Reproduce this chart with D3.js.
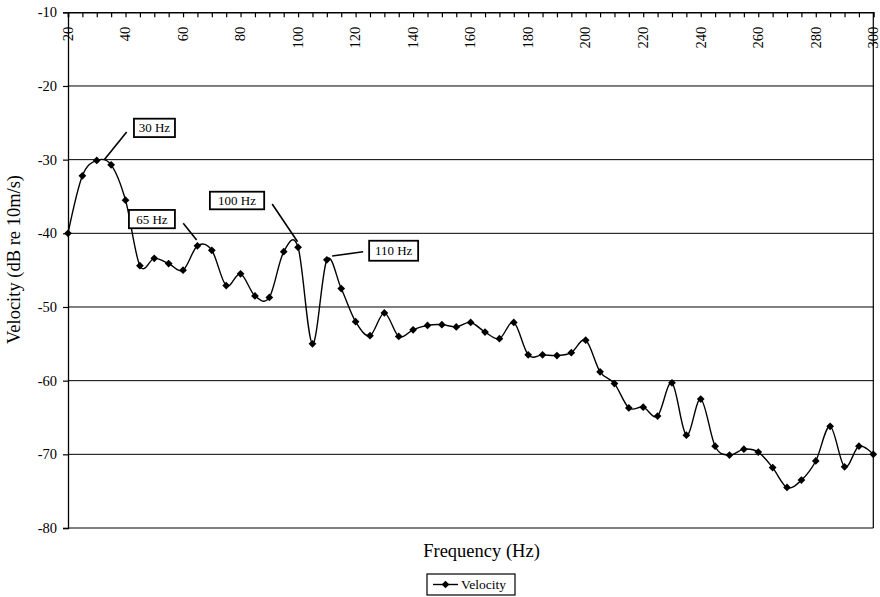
<!DOCTYPE html>
<html>
<head>
<meta charset="utf-8">
<script src="https://cdn.jsdelivr.net/npm/d3@7"></script>
<style>
  html, body { margin: 0; padding: 0; background: #fff; }
  svg { display: block; font-family: "Liberation Serif", "Times New Roman", serif; }
</style>
</head>
<body>
<svg id="chart" width="880" height="597"></svg>
<script>
// Measured velocity spectrum, 5 Hz steps from 20 to 300 Hz
const frequencies = d3.range(20, 301, 5);
const velocity = [
  -40.0, -32.2, -30.1, -30.7, -35.5, -44.4, -43.4, -44.1, -45.0, -41.7,
  -42.3, -47.1, -45.5, -48.5, -48.7, -42.5, -41.9, -55.0, -43.6, -47.5,
  -52.0, -53.9, -50.8, -54.0, -53.1, -52.5, -52.4, -52.7, -52.1, -53.4,
  -54.3, -52.1, -56.5, -56.5, -56.6, -56.2, -54.5, -58.8, -60.4, -63.7,
  -63.6, -64.8, -60.3, -67.4, -62.5, -68.9, -70.1, -69.3, -69.7, -71.8,
  -74.5, -73.5, -70.9, -66.2, -71.7, -68.9, -70.0
];
const yTicks = [-10, -20, -30, -40, -50, -60, -70, -80];
const xLabelTicks = d3.range(20, 301, 20);
const seriesName = "Velocity";

// Callout labels and the frequency each one points at
const calloutFreqs = [30, 65, 100, 110];
const calloutTexts = ["30 Hz", "65 Hz", "100 Hz", "110 Hz"];
// Callout geometry, pixel offsets from the marked point
const calloutLayout = [
  { bx: 37.2,  by: -41.7, bw: 41,   bh: 18.4, x1: 29.9,  y1: -28.3, x2: 7.5,  y2: -0.7 },
  { bx: -68.5, by: -35.9, bw: 46,   bh: 18.3, x1: -14.2, y1: -22.6, x2: -0.8, y2: -5.9 },
  { bx: -88.2, by: -55.6, bw: 54.3, bh: 17.6, x1: -25.9, y1: -43.3, x2: -0.5, y2: -5.6 },
  { bx: 42.3,  by: -19.1, bw: 49,   bh: 20,   x1: 36.3,  y1: -8.1,  x2: 5.3,  y2: -3.8 }
];

const data = frequencies.map((f, i) => ({ f, v: velocity[i] }));

const plot = { left: 68, right: 873.3, top: 12.3, bottom: 528 };
const x = d3.scaleLinear().domain([20, 300]).range([plot.left, plot.right]);
const y = d3.scaleLinear().domain([-80, -10]).range([plot.bottom, plot.top]);

const svg = d3.select("#chart");

// Horizontal gridlines
svg.append("g")
  .selectAll("line")
  .data(yTicks.filter(t => t !== -10))
  .join("line")
  .attr("x1", plot.left).attr("x2", plot.right)
  .attr("y1", d => y(d)).attr("y2", d => y(d))
  .attr("stroke", "#000").attr("stroke-width", 1);

// Right border of the plot area
svg.append("line")
  .attr("x1", plot.right).attr("x2", plot.right)
  .attr("y1", plot.top).attr("y2", plot.bottom)
  .attr("stroke", "#000").attr("stroke-width", 1.2);

// Value axis on the left
const yAxis = svg.append("g")
  .attr("transform", `translate(${plot.left},0)`)
  .call(d3.axisLeft(y).tickValues(yTicks).tickSize(5).tickPadding(6).tickFormat(d => String(d)));
yAxis.select(".domain").attr("stroke", "#000").attr("stroke-width", 1.3);
yAxis.selectAll(".tick line").attr("stroke", "#000").attr("stroke-width", 1.2);
yAxis.selectAll(".tick text")
  .attr("font-family", "Liberation Serif, Times New Roman, serif")
  .attr("font-size", 14.5).attr("fill", "#000");

// Frequency axis crossing at the top of the value range
const xAxis = svg.append("g")
  .attr("transform", `translate(0,${plot.top})`)
  .call(d3.axisTop(x).tickValues(frequencies).tickSize(-5).tickFormat(""));
xAxis.select(".domain").attr("stroke", "#000").attr("stroke-width", 1.6);
xAxis.selectAll(".tick line").attr("stroke", "#000").attr("stroke-width", 1.2);

svg.append("g")
  .selectAll("text")
  .data(xLabelTicks)
  .join("text")
  .attr("transform", d => `translate(${x(d)},${plot.top + 14.5}) rotate(-90)`)
  .attr("text-anchor", "end")
  .attr("dy", "0.33em")
  .attr("font-size", 14.5)
  .attr("fill", "#000")
  .text(d => d);

// Smoothed series line
const line = d3.line()
  .x(d => x(d.f))
  .y(d => y(d.v))
  .curve(d3.curveCardinal.tension(0));

svg.append("path")
  .datum(data)
  .attr("d", line)
  .attr("fill", "none")
  .attr("stroke", "#000")
  .attr("stroke-width", 1.4);

// Diamond markers
const diamond = d3.symbol().type(d3.symbolSquare).size(30);
svg.append("g")
  .selectAll("path")
  .data(data)
  .join("path")
  .attr("transform", d => `translate(${x(d.f)},${y(d.v)}) rotate(45)`)
  .attr("d", diamond)
  .attr("fill", "#000");

// Callouts
const callouts = calloutFreqs.map((f, i) => {
  const v = velocity[frequencies.indexOf(f)];
  return { px: x(f), py: y(v), text: calloutTexts[i], ...calloutLayout[i] };
});
const cg = svg.append("g").selectAll("g").data(callouts).join("g");
cg.append("line")
  .attr("x1", d => d.px + d.x1).attr("y1", d => d.py + d.y1)
  .attr("x2", d => d.px + d.x2).attr("y2", d => d.py + d.y2)
  .attr("stroke", "#000").attr("stroke-width", 1.6);
cg.append("rect")
  .attr("x", d => d.px + d.bx).attr("y", d => d.py + d.by)
  .attr("width", d => d.bw).attr("height", d => d.bh)
  .attr("fill", "#fff").attr("stroke", "#000").attr("stroke-width", 1.8);
cg.append("text")
  .attr("x", d => d.px + d.bx + d.bw / 2)
  .attr("y", d => d.py + d.by + d.bh / 2)
  .attr("dy", "0.35em")
  .attr("text-anchor", "middle")
  .attr("font-size", 13)
  .attr("fill", "#000")
  .text(d => d.text);

// Axis titles
svg.append("text")
  .attr("x", 481.5).attr("y", 556.5)
  .attr("text-anchor", "middle")
  .attr("font-size", 18.5)
  .attr("fill", "#000")
  .text("Frequency (Hz)");

svg.append("text")
  .attr("transform", "translate(20,259.5) rotate(-90)")
  .attr("text-anchor", "middle")
  .attr("font-size", 18.5)
  .attr("fill", "#000")
  .text("Velocity (dB re 10m/s)");

// Legend
const legend = svg.append("g").attr("transform", "translate(427,574)");
legend.append("rect")
  .attr("width", 88).attr("height", 21)
  .attr("fill", "#fff").attr("stroke", "#000").attr("stroke-width", 1.2);
legend.append("line")
  .attr("x1", 6).attr("x2", 31).attr("y1", 10.5).attr("y2", 10.5)
  .attr("stroke", "#000").attr("stroke-width", 1.4);
legend.append("path")
  .attr("transform", "translate(18.5,10.5) rotate(45)")
  .attr("d", diamond)
  .attr("fill", "#000");
legend.append("text")
  .attr("x", 34).attr("y", 10.5).attr("dy", "0.35em")
  .attr("font-size", 13.5)
  .attr("fill", "#000")
  .text(seriesName);
</script>
</body>
</html>
